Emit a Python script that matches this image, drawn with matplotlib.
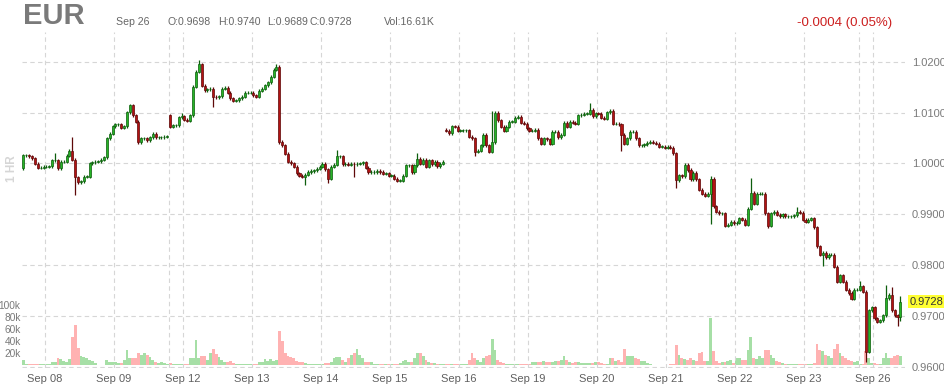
import matplotlib.pyplot as plt

plt.rcParams['font.family'] = ['Liberation Sans', 'DejaVu Sans']

# hourly closes, Sep 07 evening -> Sep 26 morning
closes = [
    1.0016, 1.0016, 1.0014, 1.0010, 0.9999, 0.9991, 0.9991, 0.9993, 0.9993, 0.9994,
    1.0006, 1.0006, 0.9990, 1.0003, 1.0003, 1.0015, 1.0025, 1.0007, 0.9973, 0.9963,
    0.9965, 0.9974, 0.9974, 1.0000, 1.0002, 1.0003, 1.0004, 1.0007, 1.0012, 1.0049,
    1.0058, 1.0073, 1.0077, 1.0077, 1.0070, 1.0073, 1.0101, 1.0114, 1.0095, 1.0082,
    1.0042, 1.0049, 1.0049, 1.0045, 1.0051, 1.0058, 1.0051, 1.0051, 1.0051, 1.0052,
    1.0053, 1.0072, 1.0075, 1.0075, 1.0091, 1.0093, 1.0086, 1.0084, 1.0095, 1.0151,
    1.0180, 1.0195, 1.0153, 1.0144, 1.0146, 1.0147, 1.0131, 1.0130, 1.0132, 1.0147,
    1.0149, 1.0139, 1.0128, 1.0123, 1.0124, 1.0128, 1.0131,
    1.0139, 1.0139, 1.0139, 1.0134, 1.0131, 1.0143, 1.0147, 1.0154, 1.0160, 1.0170,
    1.0184, 1.0190, 1.0042, 1.0036, 1.0019, 1.0003, 1.0000, 0.9993, 0.9981, 0.9976,
    0.9974, 0.9978, 0.9983, 0.9985, 0.9986, 0.9989, 0.9993, 0.9999, 0.9988, 0.9970,
    0.9993, 0.9997, 1.0014, 1.0014, 0.9998, 0.9999, 0.9997, 0.9999, 0.9998, 0.9999,
    1.0000, 1.0002, 0.9991, 0.9983, 0.9983, 0.9983, 0.9985, 0.9983, 0.9980, 0.9981,
    0.9976, 0.9976, 0.9970, 0.9966, 0.9966, 0.9976, 0.9996, 0.9996, 0.9983, 0.9996,
    1.0009, 0.9999, 1.0007, 0.9993, 1.0006, 0.9998, 1.0003, 0.9994, 0.9999, 1.0003,
    1.0064, 1.0059, 1.0073, 1.0072, 1.0064, 1.0065, 1.0065, 1.0065, 1.0052, 1.0049,
    1.0023, 1.0025, 1.0036, 1.0056, 1.0036, 1.0023, 1.0042, 1.0100, 1.0085, 1.0072,
    1.0064, 1.0072, 1.0082, 1.0082, 1.0090, 1.0092, 1.0080, 1.0078, 1.0069, 1.0064,
    1.0064, 1.0066, 1.0049, 1.0039, 1.0049, 1.0047, 1.0039, 1.0062, 1.0062, 1.0051,
    1.0056, 1.0080, 1.0072, 1.0082, 1.0080, 1.0078, 1.0095, 1.0096, 1.0098, 1.0098,
    1.0105, 1.0093, 1.0099, 1.0098, 1.0090, 1.0088, 1.0101, 1.0103, 1.0078, 1.0078,
    1.0077, 1.0056, 1.0039, 1.0049, 1.0062, 1.0062, 1.0049, 1.0036, 1.0036, 1.0038,
    1.0041, 1.0042, 1.0041, 1.0039, 1.0033, 1.0033, 1.0031, 1.0033, 1.0031, 1.0020,
    0.9967, 0.9977,
    0.9975, 0.9997, 0.9987, 0.9969, 0.9982, 0.9969, 0.9948, 0.9940, 0.9936, 0.9940,
    0.9970, 0.9916, 0.9905, 0.9902, 0.9902, 0.9877, 0.9879, 0.9885, 0.9882, 0.9883,
    0.9892, 0.9889, 0.9879, 0.9911, 0.9942, 0.9921, 0.9940, 0.9940, 0.9940, 0.9902,
    0.9877, 0.9902, 0.9905, 0.9899, 0.9896, 0.9900, 0.9896, 0.9896, 0.9896, 0.9898,
    0.9905, 0.9903, 0.9889, 0.9885, 0.9889, 0.9892, 0.9874, 0.9837, 0.9820, 0.9824,
    0.9815, 0.9820, 0.9820, 0.9797, 0.9767, 0.9780, 0.9767, 0.9751, 0.9745, 0.9734,
    0.9751, 0.9751, 0.9758, 0.9747, 0.9629, 0.9711, 0.9717, 0.9695, 0.9688, 0.9691,
    0.9701, 0.9735, 0.9742, 0.9711, 0.9701, 0.9698, 0.9728,
]
first_open = 0.9990
gap_opens = {51: 1.0095, 147: 1.0066}

# wicks that stand out, everything else gets a short default wick
highs = {11: 1.0020, 17: 1.0051, 55: 1.0099, 61: 1.0203, 88: 1.0196, 109: 1.0027,
         137: 1.0021, 163: 1.0104, 197: 1.0118, 239: 0.9975, 253: 0.9971,
         269: 0.9914, 291: 0.9769, 300: 0.9760, 302: 0.9756, 305: 0.9740}
lows = {18: 0.9937, 66: 1.0111, 98: 0.9958, 106: 0.9961, 115: 0.9973, 157: 1.0014,
        208: 1.0025, 227: 0.9951, 239: 0.9881, 259: 0.9872, 278: 0.9798,
        293: 0.9610, 304: 0.9681, 305: 0.9689}
wick_pad = 0.0003

# volume in thousands
volume_k = [
    9, 2, 2, 3, 3, 3, 2, 2, 2, 2,
    6, 6, 12, 10, 7, 6, 10, 47, 66, 28,
    15, 14, 12, 9, 7, 4, 1, 1, 1, 9,
    5, 6, 5, 4, 4, 9, 25, 12, 13, 13,
    20, 17, 20, 17, 14, 9, 6, 4, 6, 4,
    2, 4, 2, 2, 2, 2, 2, 2, 12, 12,
    42, 12, 15, 16, 9, 20, 27, 19, 14, 9,
    5, 6, 8, 4, 2, 2, 2, 2, 2, 2,
    2, 2, 6, 6, 10, 8, 10, 7, 9, 57,
    40, 20, 16, 14, 12, 8, 6, 5, 4, 3,
    2, 2, 2, 2, 3, 4, 4, 6, 12, 14,
    14, 9, 6, 12, 17, 20, 27, 17, 12, 6,
    5, 5, 2, 2, 2, 2, 2, 2, 2, 2,
    2, 4, 7, 9, 6, 6, 12, 20, 20, 15,
    9, 6, 4, 4, 2, 2, 2, 2, 2, 2,
    2, 2, 2, 2, 2, 9, 20, 12, 9, 6,
    12, 15, 17, 43, 26, 9, 5, 4, 2, 2,
    2, 2, 2, 2, 2, 2, 2, 5, 5, 5,
    5, 8, 6, 6, 5, 7, 7, 9, 15, 9,
    6, 4, 5, 6, 4, 4, 4, 4, 4, 5,
    5, 4, 2, 3, 12, 12, 7, 9, 6, 27,
    15, 16, 15, 12, 11, 8, 7, 4, 2, 1,
    1, 1, 1, 1, 1, 2, 2, 34, 17, 12,
    10, 9, 12, 9, 8, 21, 22, 8, 7, 78,
    24, 7, 4, 5, 5, 7, 9, 4, 12, 12,
    9, 9, 26, 47, 13, 10, 15, 12, 26, 26,
    17, 12, 7, 5, 4, 2, 2, 2, 2, 2,
    2, 2, 2, 2, 2, 4, 35, 26, 23, 17,
    16, 13, 27, 35, 20, 15, 12, 9, 8, 5,
    7, 2, 2, 23, 12, 4, 4, 2, 2, 12,
    21, 12, 12, 16, 17, 15,
]

day_labels = ['Sep 08', 'Sep 09', 'Sep 12', 'Sep 13', 'Sep 14', 'Sep 15', 'Sep 16',
              'Sep 19', 'Sep 20', 'Sep 21', 'Sep 22', 'Sep 23', 'Sep 26']
day_first_bar = [8, 32, 56, 80, 104, 128, 152, 176, 200, 224, 248, 272, 296]
week_first_bar = [51, 171, 291]
price_ticks = [0.9600, 0.9700, 0.9800, 0.9900, 1.0000, 1.0100, 1.0200]
vol_ticks = [20, 40, 60, 80, 100]

# OHLC
n = len(closes)
opens = [first_open] + closes[:-1]
for i, o in gap_opens.items():
    opens[i] = o
hi = [highs.get(i, max(opens[i], closes[i]) + wick_pad) for i in range(n)]
lo = [lows.get(i, min(opens[i], closes[i]) - wick_pad) for i in range(n)]
up = [closes[i] >= opens[i] for i in range(n)]
xs = list(range(n))

W, H = 944, 390
fig = plt.figure(figsize=(W / 100, H / 100), dpi=100)
ax = fig.add_axes([22 / W, (H - 368) / H, (905 - 22) / W, (368 - 32) / H])
axv = ax.twinx()
ax.set_zorder(axv.get_zorder() + 1)
ax.patch.set_visible(False)

# volume
vol_colors = ['#a6dfa6' if u else '#ffb2b2' for u in up]
axv.bar(xs, volume_k, width=1.0, color=vol_colors, linewidth=0)
axv.set_ylim(-4.3, 551)
axv.yaxis.tick_left()
axv.set_yticks(vol_ticks)
axv.set_yticklabels([f'{v}k' for v in vol_ticks])
axv.tick_params(axis='y', length=0, pad=1, labelsize=7.3, labelcolor='#7a7a7a')

# grid
grid_kw = dict(color='#d6d6d6', linewidth=0.8, linestyle=(0, (4, 3)), zorder=0)
for p in price_ticks:
    ax.axhline(p, **grid_kw)
for b in day_first_bar + week_first_bar:
    ax.axvline(b - 0.5, **grid_kw)

# candles
green_face, green_edge = '#27b327', '#0d5e0d'
red_face, red_edge = '#b31212', '#5e0808'
edge_cols = [green_edge if u else red_edge for u in up]
ax.vlines(xs, lo, hi, colors=edge_cols, linewidth=0.9, zorder=2)
bodies = [max(abs(closes[i] - opens[i]), 0.00004) for i in range(n)]
bottoms = [min(opens[i], closes[i]) for i in range(n)]
ax.bar(xs, bodies, bottom=bottoms, width=0.72,
       color=[green_face if u else red_face for u in up],
       edgecolor=edge_cols, linewidth=0.5, zorder=3)

ax.set_xlim(-0.5, 306.6)
ax.set_ylim(0.959744, 1.025843)
ax.yaxis.tick_right()
ax.set_yticks(price_ticks)
ax.set_yticklabels([f'{p:.4f}' for p in price_ticks])
ax.tick_params(axis='y', length=0, pad=5, labelsize=8, labelcolor='#7a7a7a')
ax.set_xticks([b - 0.5 for b in day_first_bar])
ax.set_xticklabels(day_labels)
ax.tick_params(axis='x', length=0, pad=4, labelsize=8, labelcolor='#606060')
for a in (ax, axv):
    for s in a.spines.values():
        s.set_visible(False)

# last price tag
ax.annotate(f'{closes[-1]:.4f}', xy=(1, closes[-1]), xycoords=('axes fraction', 'data'),
            xytext=(3, 0), textcoords='offset points', va='center', ha='left',
            fontsize=8, color='#333333', zorder=10,
            bbox=dict(boxstyle='square,pad=0.15', fc='#ffff33', ec='none'))

# header
def px(x, y):
    return x / W, 1 - y / H

hdr = dict(fontsize=7.6, color='#666666', va='center')
fig.text(*px(23, 16), 'EUR', fontsize=21, fontweight='bold', color='#7a7a7a', va='center')
fig.text(*px(116, 22), 'Sep 26', **hdr)
fig.text(*px(168, 22), 'O:0.9698', **hdr)
fig.text(*px(218, 22), 'H:0.9740', **hdr)
fig.text(*px(267, 22), 'L:0.9689', **hdr)
fig.text(*px(310, 22), 'C:0.9728', **hdr)
fig.text(*px(384, 22), 'Vol:16.61K', **hdr)
fig.text(*px(797, 23), '-0.0004 (0.05%)', fontsize=9.5, color='#cc1f1f', va='center')
fig.text(*px(12, 169), '1 HR', fontsize=8.5, fontweight='bold', color='#d6d6d6',
         rotation=90, ha='center', va='center')

fig.savefig('out.png', dpi=100)
